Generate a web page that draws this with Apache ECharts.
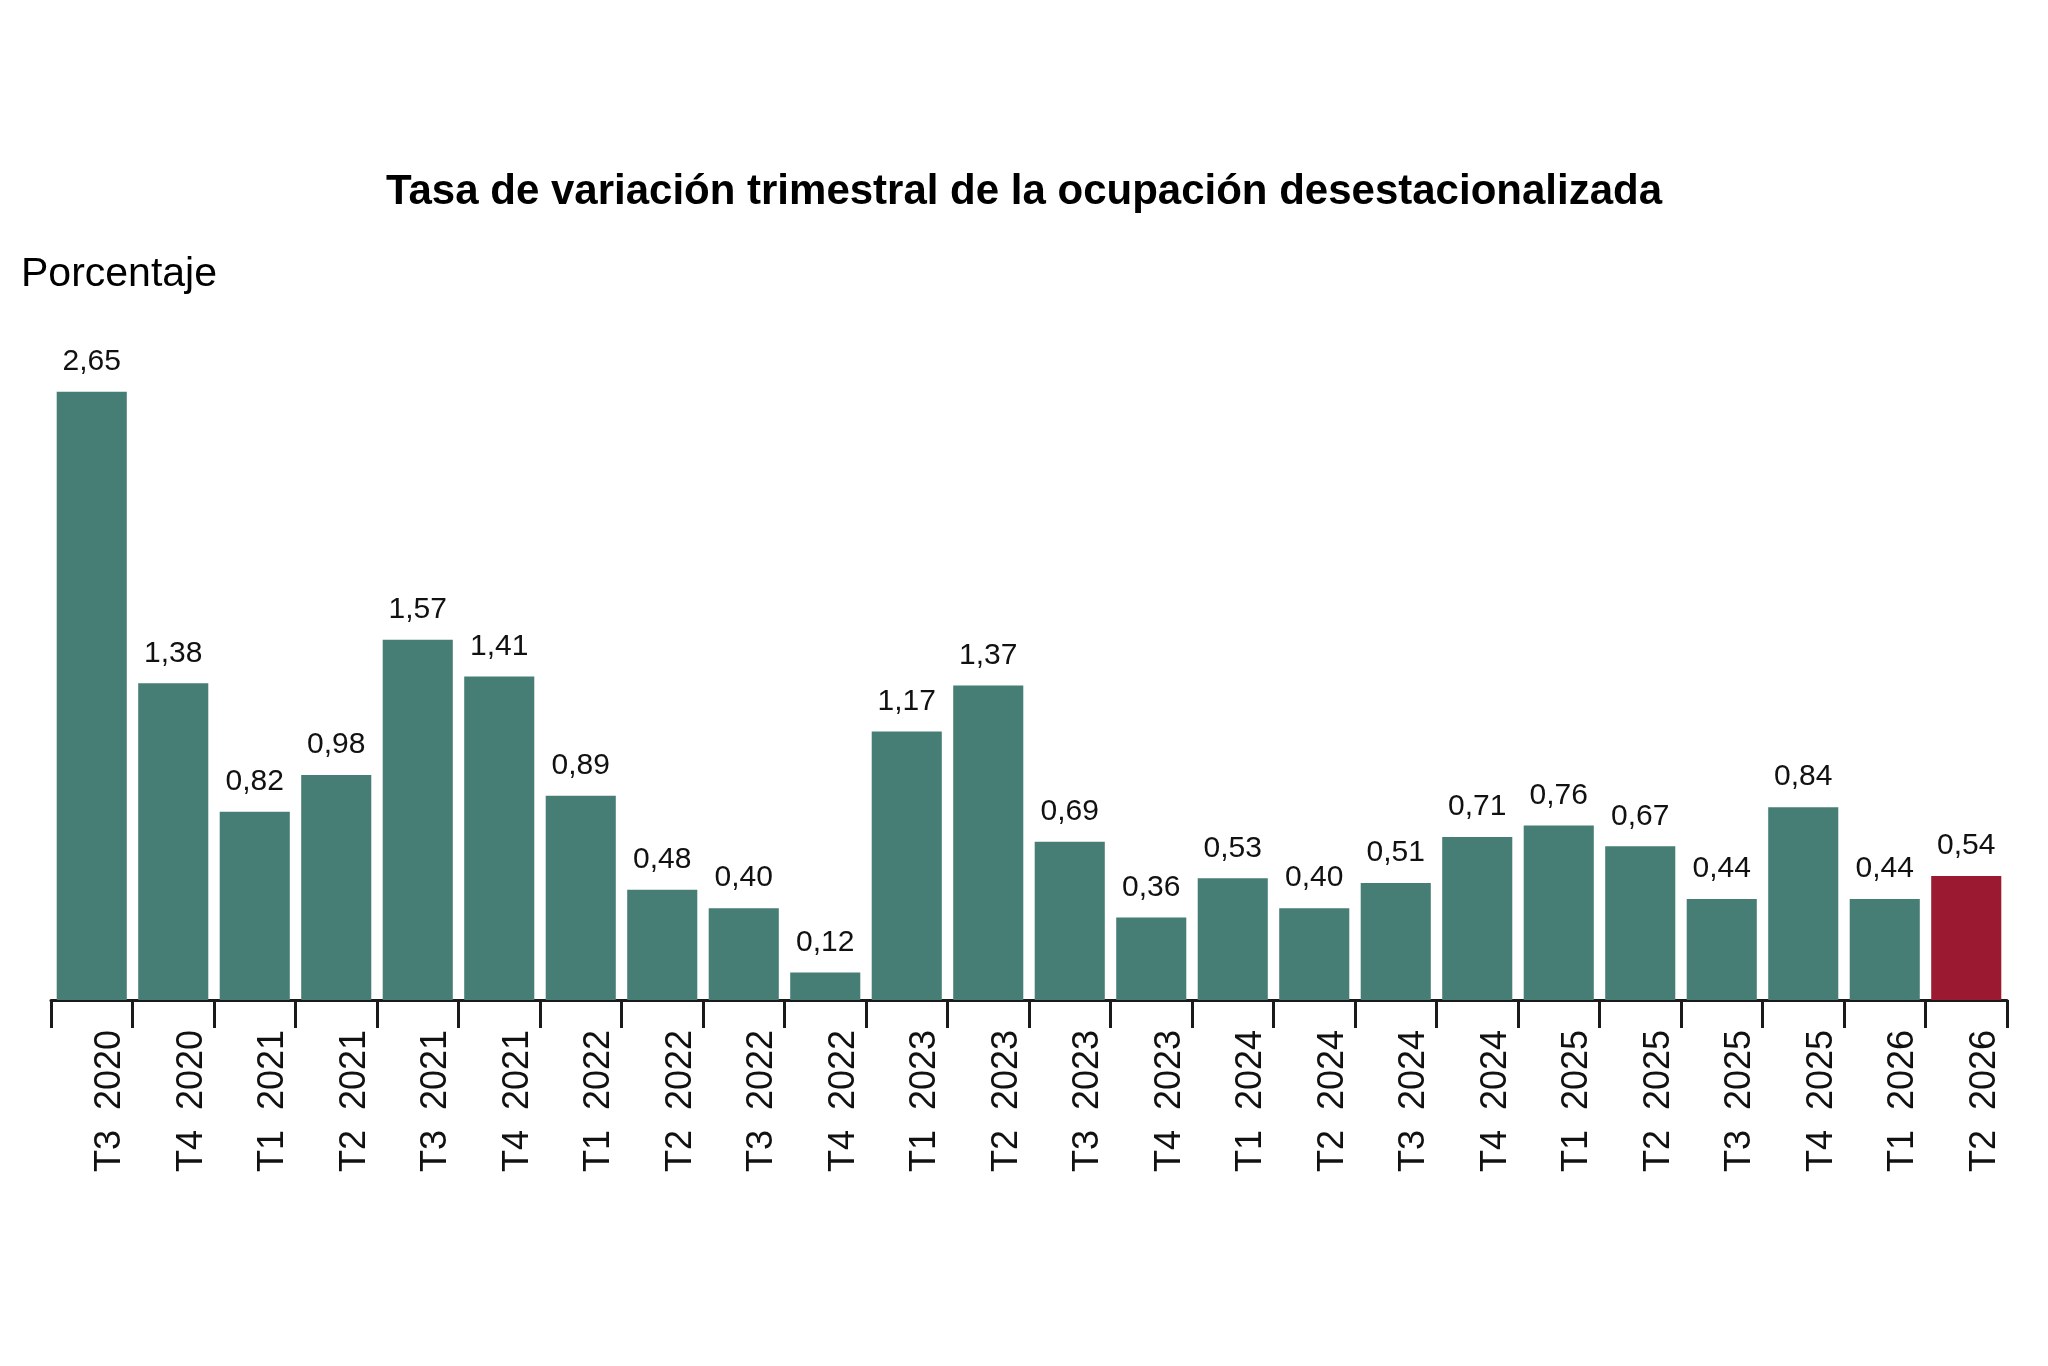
<!DOCTYPE html>
<html>
<head>
<meta charset="utf-8">
<script src="https://cdn.jsdelivr.net/npm/echarts@6/dist/echarts.min.js"></script>
<style>
html,body{margin:0;padding:0;background:#fff;}
#c{width:2048px;height:1366px;}
</style>
</head>
<body>
<div id="c"></div>
<script>
const categories = ["T3  2020","T4  2020","T1  2021","T2  2021","T3  2021","T4  2021","T1  2022","T2  2022","T3  2022","T4  2022","T1  2023","T2  2023","T3  2023","T4  2023","T1  2024","T2  2024","T3  2024","T4  2024","T1  2025","T2  2025","T3  2025","T4  2025","T1  2026","T2  2026"];
const values = [2.65,1.38,0.82,0.98,1.57,1.41,0.89,0.48,0.40,0.12,1.17,1.37,0.69,0.36,0.53,0.40,0.51,0.71,0.76,0.67,0.44,0.84,0.44,0.54];
const highlightIndex = 23;
const titleText = "Tasa de variación trimestral de la ocupación desestacionalizada";
const unitText = "Porcentaje";

const teal = "#467e76";
const red = "#9b1a31";

const chart = echarts.init(document.getElementById('c'), null, {renderer:'canvas'});
chart.setOption({
  animation:false,
  backgroundColor:'#ffffff',
  title:[
    {text:titleText,left:'center',top:166,textStyle:{fontFamily:'Liberation Sans, Arial, sans-serif',fontWeight:'bold',fontSize:42,color:'#000'}},
    {text:unitText,left:16,top:249,textStyle:{fontFamily:'Liberation Sans, Arial, sans-serif',fontWeight:'normal',fontSize:41,color:'#000'}}
  ],
  grid:{left:51,right:41,top:311.5,bottom:366},
  xAxis:{
    type:'category',
    data:categories,
    boundaryGap:true,
    axisLine:{show:true,lineStyle:{color:'#1a1a1a',width:3}},
    axisTick:{show:true,length:28,lineStyle:{color:'#1a1a1a',width:3}},
    axisLabel:{
      rotate:90,
      interval:0,
      margin:30,
      verticalAlign:'top',
      lineHeight:37,
      fontFamily:'Liberation Sans, Arial, sans-serif',
      fontSize:36,
      color:'#111'
    }
  },
  yAxis:{type:'value',min:0,max:3,show:false,splitLine:{show:false}},
  series:[{
    type:'bar',
    data:values.map((v,i)=>({value:v,itemStyle:{color:i===highlightIndex?red:teal}})),
    barCategoryGap:'14%',
    label:{
      show:true,
      position:'top',
      distance:15,
      fontFamily:'Liberation Sans, Arial, sans-serif',
      fontSize:30,
      color:'#111',
      formatter:p=>p.value.toFixed(2).replace('.',',')
    }
  }]
});
</script>
</body>
</html>
